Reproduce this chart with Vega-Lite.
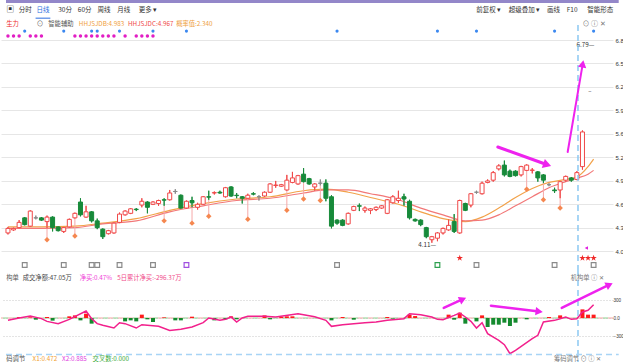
{
"$schema":"https://vega.github.io/schema/vega-lite/v6.json",
"usermeta":{"embedOptions":{"actions":false}},
"padding":0,
"background":"#ffffff",
"spacing":0,
"bounds":"flush",
"config":{"view":{"stroke":null},"font":"Noto Sans CJK SC","text":{"fontSize":6.3,"align":"left","baseline":"middle","color":"#333333"}},
"datasets":{
"k":[
{"i":0,"o":4.24,"h":4.32,"l":4.22,"c":4.30},{"i":1,"o":4.28,"h":4.31,"l":4.27,"c":4.30},{"i":2,"o":4.31,"h":4.41,"l":4.30,"c":4.38},{"i":3,"o":4.44,"h":4.45,"l":4.34,"c":4.35},{"i":4,"o":4.33,"h":4.54,"l":4.32,"c":4.53},{"i":5,"o":4.44,"h":4.47,"l":4.42,"c":4.44},{"i":6,"o":4.44,"h":4.45,"l":4.40,"c":4.41},{"i":7,"o":4.39,"h":4.47,"l":4.30,"c":4.45},{"i":8,"o":4.45,"h":4.46,"l":4.26,"c":4.31},{"i":9,"o":4.32,"h":4.33,"l":4.26,"c":4.27},
{"i":10,"o":4.26,"h":4.32,"l":4.24,"c":4.31},{"i":11,"o":4.32,"h":4.43,"l":4.31,"c":4.42},{"i":12,"o":4.44,"h":4.51,"l":4.43,"c":4.50},{"i":13,"o":4.65,"h":4.70,"l":4.46,"c":4.48},{"i":14,"o":4.45,"h":4.60,"l":4.44,"c":4.52},{"i":15,"o":4.52,"h":4.53,"l":4.38,"c":4.40},{"i":16,"o":4.40,"h":4.43,"l":4.29,"c":4.31},{"i":17,"o":4.29,"h":4.30,"l":4.16,"c":4.19},{"i":18,"o":4.23,"h":4.28,"l":4.22,"c":4.27},{"i":19,"o":4.24,"h":4.38,"l":4.23,"c":4.37},
{"i":20,"o":4.38,"h":4.51,"l":4.37,"c":4.49},{"i":21,"o":4.48,"h":4.54,"l":4.47,"c":4.53},{"i":22,"o":4.50,"h":4.57,"l":4.49,"c":4.56},{"i":23,"o":4.555,"h":4.57,"l":4.53,"c":4.55},{"i":24,"o":4.61,"h":4.70,"l":4.58,"c":4.66},{"i":25,"o":4.65,"h":4.66,"l":4.50,"c":4.58},{"i":26,"o":4.62,"h":4.66,"l":4.61,"c":4.65},{"i":27,"o":4.63,"h":4.68,"l":4.60,"c":4.67},{"i":28,"o":4.68,"h":4.70,"l":4.60,"c":4.675},{"i":29,"o":4.68,"h":4.81,"l":4.67,"c":4.77},
{"i":30,"o":4.79,"h":4.82,"l":4.76,"c":4.79},{"i":31,"o":4.74,"h":4.75,"l":4.56,"c":4.57},{"i":32,"o":4.57,"h":4.67,"l":4.56,"c":4.66},{"i":33,"o":4.67,"h":4.72,"l":4.58,"c":4.64},{"i":34,"o":4.58,"h":4.64,"l":4.55,"c":4.62},{"i":35,"o":4.62,"h":4.73,"l":4.61,"c":4.72},{"i":36,"o":4.72,"h":4.80,"l":4.68,"c":4.715},{"i":37,"o":4.77,"h":4.79,"l":4.75,"c":4.775},{"i":38,"o":4.78,"h":4.80,"l":4.76,"c":4.77},{"i":39,"o":4.72,"h":4.85,"l":4.71,"c":4.84},
{"i":40,"o":4.85,"h":4.86,"l":4.72,"c":4.73},{"i":41,"o":4.74,"h":4.77,"l":4.70,"c":4.735},{"i":42,"o":4.72,"h":4.73,"l":4.63,"c":4.70},{"i":43,"o":4.70,"h":4.76,"l":4.69,"c":4.74},{"i":44,"o":4.76,"h":4.78,"l":4.74,"c":4.755},{"i":45,"o":4.72,"h":4.74,"l":4.67,"c":4.72},{"i":46,"o":4.73,"h":4.79,"l":4.72,"c":4.78},{"i":47,"o":4.78,"h":4.90,"l":4.77,"c":4.89},{"i":48,"o":4.87,"h":4.93,"l":4.84,"c":4.875},{"i":49,"o":4.86,"h":4.89,"l":4.85,"c":4.88},
{"i":50,"o":4.81,"h":5.01,"l":4.80,"c":4.94},{"i":51,"o":4.91,"h":5.05,"l":4.90,"c":4.97},{"i":52,"o":4.89,"h":5.01,"l":4.88,"c":5.00},{"i":53,"o":5.02,"h":5.10,"l":4.91,"c":4.92},{"i":54,"o":4.96,"h":4.97,"l":4.88,"c":4.89},{"i":55,"o":4.85,"h":4.90,"l":4.80,"c":4.89},{"i":56,"o":4.90,"h":4.95,"l":4.87,"c":4.90},{"i":57,"o":4.90,"h":4.95,"l":4.66,"c":4.70},{"i":58,"o":4.72,"h":4.74,"l":4.30,"c":4.33},{"i":59,"o":4.41,"h":4.42,"l":4.35,"c":4.37},
{"i":60,"o":4.41,"h":4.42,"l":4.33,"c":4.34},{"i":61,"o":4.36,"h":4.51,"l":4.35,"c":4.50},{"i":62,"o":4.54,"h":4.60,"l":4.53,"c":4.59},{"i":63,"o":4.60,"h":4.63,"l":4.53,"c":4.595},{"i":64,"o":4.54,"h":4.59,"l":4.51,"c":4.57},{"i":65,"o":4.54,"h":4.57,"l":4.49,"c":4.56},{"i":66,"o":4.55,"h":4.59,"l":4.53,"c":4.58},{"i":67,"o":4.57,"h":4.61,"l":4.56,"c":4.60},{"i":68,"o":4.50,"h":4.69,"l":4.49,"c":4.68},{"i":69,"o":4.64,"h":4.74,"l":4.63,"c":4.72},
{"i":70,"o":4.67,"h":4.80,"l":4.64,"c":4.70},{"i":71,"o":4.72,"h":4.76,"l":4.60,"c":4.69},{"i":72,"o":4.66,"h":4.68,"l":4.42,"c":4.44},{"i":73,"o":4.42,"h":4.43,"l":4.39,"c":4.40},{"i":74,"o":4.41,"h":4.42,"l":4.33,"c":4.35},{"i":75,"o":4.31,"h":4.32,"l":4.17,"c":4.19},{"i":76,"o":4.15,"h":4.20,"l":4.11,"c":4.19},{"i":77,"o":4.17,"h":4.25,"l":4.13,"c":4.24},{"i":78,"o":4.24,"h":4.31,"l":4.22,"c":4.30},{"i":79,"o":4.28,"h":4.42,"l":4.27,"c":4.34},
{"i":80,"o":4.39,"h":4.49,"l":4.24,"c":4.26},{"i":81,"o":4.24,"h":4.68,"l":4.23,"c":4.67},{"i":82,"o":4.63,"h":4.64,"l":4.53,"c":4.54},{"i":83,"o":4.61,"h":4.77,"l":4.58,"c":4.76},{"i":84,"o":4.78,"h":4.80,"l":4.76,"c":4.78},{"i":85,"o":4.76,"h":4.92,"l":4.75,"c":4.90},{"i":86,"o":4.91,"h":4.95,"l":4.90,"c":4.93},{"i":87,"o":4.94,"h":5.06,"l":4.92,"c":5.04},{"i":88,"o":5.09,"h":5.15,"l":5.07,"c":5.13},{"i":89,"o":5.14,"h":5.20,"l":4.99,"c":5.01},
{"i":90,"o":5.06,"h":5.08,"l":4.98,"c":4.99},{"i":91,"o":5.06,"h":5.07,"l":4.99,"c":5.00},{"i":92,"o":5.01,"h":5.13,"l":4.99,"c":5.12},{"i":93,"o":5.07,"h":5.15,"l":5.06,"c":5.14},{"i":94,"o":5.07,"h":5.10,"l":5.03,"c":5.075},{"i":95,"o":5.05,"h":5.06,"l":4.92,"c":4.97},{"i":96,"o":5.01,"h":5.02,"l":4.90,"c":4.94},{"i":97,"o":4.88,"h":4.90,"l":4.86,"c":4.88},{"i":98,"o":4.81,"h":4.84,"l":4.77,"c":4.80},{"i":99,"o":4.81,"h":4.93,"l":4.70,"c":4.92},
{"i":100,"o":4.94,"h":5.00,"l":4.92,"c":4.99},{"i":101,"o":4.97,"h":4.98,"l":4.92,"c":4.94},{"i":102,"o":4.95,"h":5.06,"l":4.94,"c":5.04},{"i":103,"o":5.12,"h":5.60,"l":5.08,"c":5.58}
],
"ma":[
{"i":0,"a":4.32,"b":4.30},{"i":6,"a":4.32,"b":4.30},{"i":12,"a":4.33,"b":4.31},{"i":17,"a":4.37,"b":4.36},{"i":23,"a":4.43,"b":4.40},{"i":29,"a":4.54,"b":4.52},{"i":35,"a":4.63,"b":4.60},{"i":41,"a":4.69,"b":4.67},{"i":47,"a":4.72,"b":4.70},{"i":53,"a":4.80,"b":4.77},{"i":57,"a":4.82,"b":4.81},{"i":61,"a":4.78,"b":4.81},{"i":65,"a":4.71,"b":4.76},{"i":70,"a":4.62,"b":4.68},{"i":74,"a":4.52,"b":4.57},{"i":78,"a":4.43,"b":4.48},{"i":82,"a":4.39,"b":4.40},{"i":85,"a":4.45,"b":4.41},{"i":88,"a":4.57,"b":4.48},{"i":91,"a":4.71,"b":4.60},{"i":94,"a":4.83,"b":4.72},{"i":97,"a":4.91,"b":4.84},{"i":100,"a":4.95,"b":4.92},{"i":102,"a":4.983,"b":4.967},{"i":104,"a":5.12,"b":5.02},{"i":105,"a":5.22,"b":5.07}
],
"dia":[
{"i":7,"t":4.30,"v":4.15},{"i":12,"t":4.43,"v":4.20},{"i":28,"t":4.60,"v":4.40},{"i":33,"t":4.58,"v":4.37},{"i":36,"t":4.68,"v":4.46},{"i":43,"t":4.69,"v":4.42},{"i":50,"t":4.80,"v":4.54},{"i":53,"t":4.91,"v":4.69},{"i":56,"t":4.87,"v":4.67},{"i":93,"t":5.06,"v":4.82},{"i":96,"t":4.90,"v":4.68},{"i":99,"t":4.70,"v":4.57}
],
"ev":[
{"i":3,"k":"g"},{"i":10,"k":"g"},{"i":15,"k":"g"},{"i":16,"k":"g"},{"i":20,"k":"g"},{"i":26,"k":"g"},{"i":32,"k":"p"},{"i":59,"k":"g"},{"i":77,"k":"n"},{"i":84,"k":"g"},{"i":98,"k":"g"},{"i":105,"k":"g"}
],
"mg":[{"i":0},{"i":1},{"i":2},{"i":4},{"i":5},{"i":6},{"i":12},{"i":13},{"i":14},{"i":15},{"i":16},{"i":17},{"i":18},{"i":19},{"i":21},{"i":23},{"i":24},{"i":25},{"i":26}],
"rs":[{"i":81},{"i":103},{"i":104},{"i":105}],
"bars":[
{"i":2,"v":17},{"i":4,"v":11},{"i":5,"v":-28},{"i":7,"v":17},{"i":8,"v":-44},{"i":11,"v":28},{"i":12,"v":44},{"i":13,"v":-39},{"i":14,"v":72},{"i":15,"v":-94},{"i":21,"v":-56},{"i":22,"v":-39},{"i":23,"v":-56},{"i":24,"v":56},{"i":25,"v":-22},{"i":26,"v":-67},{"i":28,"v":11},{"i":30,"v":-39},{"i":31,"v":-39},{"i":33,"v":22},{"i":37,"v":-39},{"i":39,"v":-22},{"i":40,"v":28},{"i":41,"v":-22},{"i":46,"v":44},{"i":47,"v":-22},{"i":49,"v":22},{"i":50,"v":28},{"i":51,"v":28},{"i":58,"v":-39},{"i":60,"v":17},{"i":62,"v":-28},{"i":68,"v":17},{"i":69,"v":-10},{"i":72,"v":56},{"i":73,"v":33},{"i":79,"v":56},{"i":80,"v":-28},{"i":81,"v":89},{"i":82,"v":-94},{"i":84,"v":-56},{"i":85,"v":44},{"i":86,"v":-150},{"i":87,"v":-111},{"i":88,"v":-111},{"i":89,"v":-78},{"i":90,"v":-133},{"i":91,"v":-78},{"i":93,"v":-22},{"i":97,"v":17},{"i":99,"v":44},{"i":103,"v":144},{"i":104,"v":56},{"i":105,"v":56}
],
"flow":[
{"i":0,"v":-39},{"i":2,"v":0},{"i":4,"v":33},{"i":6,"v":-10},{"i":7,"v":-56},{"i":9,"v":-94},{"i":11,"v":-22},{"i":14,"v":117},{"i":15,"v":-11},{"i":16,"v":-94},{"i":17,"v":-122},{"i":19,"v":-167},{"i":20,"v":-78},{"i":21,"v":-94},{"i":23,"v":-167},{"i":24,"v":-111},{"i":27,"v":-139},{"i":29,"v":-206},{"i":31,"v":-189},{"i":33,"v":-150},{"i":35,"v":-78},{"i":36,"v":0},{"i":38,"v":-39},{"i":39,"v":-22},{"i":40,"v":17},{"i":41,"v":-67},{"i":42,"v":0},{"i":43,"v":28},{"i":46,"v":28},{"i":48,"v":17},{"i":52,"v":72},{"i":53,"v":56},{"i":55,"v":20},{"i":57,"v":-39},{"i":58,"v":-139},{"i":60,"v":-111},{"i":62,"v":-94},{"i":64,"v":-78},{"i":66,"v":-67},{"i":68,"v":-39},{"i":71,"v":-11},{"i":72,"v":72},{"i":74,"v":56},{"i":76,"v":17},{"i":77,"v":-22},{"i":78,"v":-28},{"i":80,"v":44},{"i":81,"v":83},{"i":82,"v":17},{"i":83,"v":-56},{"i":84,"v":-167},{"i":85,"v":-78},{"i":86,"v":-261},{"i":88,"v":-372},{"i":89,"v":-444},{"i":90,"v":-595},{"i":91,"v":-539},{"i":94,"v":-344},{"i":95,"v":-289},{"i":96,"v":-67},{"i":98,"v":-39},{"i":99,"v":-11},{"i":100,"v":17},{"i":101,"v":-22},{"i":102,"v":-11},{"i":103,"v":100},{"i":104,"v":128},{"i":105,"v":222}
]
},
"vconcat":[
{"width":612,"height":270,"data":{"values":[{}]},"resolve":{"axis":{"x":"independent","y":"independent"}},"layer":[
{"mark":{"type":"rule","color":"#9387c9","strokeWidth":3},"encoding":{"x":{"datum":-0.353,"axis":null},"x2":{"datum":109.5},"y":{"datum":7.311,"axis":null}}},
{"mark":{"type":"text","text":"▣","fontSize":8},"encoding":{"x":{"datum":-0.3,"axis":null},"y":{"datum":7.198,"axis":null}}},
{"mark":{"type":"text","text":"分时","fontSize":6.5},"encoding":{"x":{"datum":1.94,"axis":null},"y":{"datum":7.198,"axis":null}}},
{"mark":{"type":"text","text":"日线","fontSize":6.5,"color":"#2b6de0"},"encoding":{"x":{"datum":5.11,"axis":null},"y":{"datum":7.198,"axis":null}}},
{"mark":{"type":"text","text":"30分","fontSize":6.5},"encoding":{"x":{"datum":9.0,"axis":null},"y":{"datum":7.198,"axis":null}}},
{"mark":{"type":"text","text":"60分","fontSize":6.5},"encoding":{"x":{"datum":12.52,"axis":null},"y":{"datum":7.198,"axis":null}}},
{"mark":{"type":"text","text":"周线","fontSize":6.5},"encoding":{"x":{"datum":16.05,"axis":null},"y":{"datum":7.198,"axis":null}}},
{"mark":{"type":"text","text":"月线","fontSize":6.5},"encoding":{"x":{"datum":19.58,"axis":null},"y":{"datum":7.198,"axis":null}}},
{"mark":{"type":"text","text":"更多 ▾","fontSize":6.5},"encoding":{"x":{"datum":23.46,"axis":null},"y":{"datum":7.198,"axis":null}}},
{"mark":{"type":"text","text":"前复权 ▾","fontSize":6.5},"encoding":{"x":{"datum":83.95,"axis":null},"y":{"datum":7.198,"axis":null}}},
{"mark":{"type":"text","text":"超级叠加 ▾","fontSize":6.5},"encoding":{"x":{"datum":89.77,"axis":null},"y":{"datum":7.198,"axis":null}}},
{"mark":{"type":"text","text":"画线","fontSize":6.5},"encoding":{"x":{"datum":96.65,"axis":null},"y":{"datum":7.198,"axis":null}}},
{"mark":{"type":"text","text":"F10","fontSize":6.5},"encoding":{"x":{"datum":100.18,"axis":null},"y":{"datum":7.198,"axis":null}}},
{"mark":{"type":"text","text":"智能形态","fontSize":6.5},"encoding":{"x":{"datum":103.88,"axis":null},"y":{"datum":7.198,"axis":null}}},
{"mark":{"type":"rule","color":"#2b6de0","strokeWidth":1},"encoding":{"x":{"datum":4.95,"axis":null},"x2":{"datum":7.6},"y":{"datum":7.09,"axis":null}}},
{"mark":{"type":"text","text":"生力","color":"#ee2a2a"},"encoding":{"x":{"datum":-0.3,"axis":null},"y":{"datum":7.012,"axis":null}}},
{"mark":{"type":"text","text":"⊙","color":"#666666","fontSize":7},"encoding":{"x":{"datum":5.11,"axis":null},"y":{"datum":7.012,"axis":null}}},
{"mark":{"type":"text","text":"智能辅助","color":"#555555"},"encoding":{"x":{"datum":7.23,"axis":null},"y":{"datum":7.012,"axis":null}}},
{"mark":{"type":"text","text":"HHJSJDB:4.983","color":"#f0a040"},"encoding":{"x":{"datum":12.7,"axis":null},"y":{"datum":7.012,"axis":null}}},
{"mark":{"type":"text","text":"HHJSJDC:4.967","color":"#f04848"},"encoding":{"x":{"datum":21.52,"axis":null},"y":{"datum":7.012,"axis":null}}},
{"mark":{"type":"text","text":"概率值:2.340","color":"#eea040"},"encoding":{"x":{"datum":30.16,"axis":null},"y":{"datum":7.012,"axis":null}}},
{"mark":{"type":"text","text":"⊙ ⓘ ✕","color":"#777777","fontSize":7},"encoding":{"x":{"datum":103.0,"axis":null},"y":{"datum":7.012,"axis":null}}},
{"data":{"name":"k"},"mark":{"type":"rule","strokeWidth":1},"encoding":{
"x":{"field":"i","type":"quantitative","scale":{"domain":[-0.353,107.58],"nice":false,"zero":false},"axis":null},
"y":{"field":"l","type":"quantitative","scale":{"domain":[3.748,7.331],"nice":false,"zero":false},"axis":{"orient":"right","values":[4.0,4.3111,4.6222,4.9333,5.2444,5.5556,5.8667,6.1778,6.4889,6.8],"format":".1f","grid":true,"gridColor":"#e6e6e6","domain":false,"ticks":false,"labelPadding":2,"labelFontSize":6,"labelFont":"Liberation Sans","labelColor":"#333333","title":null}},
"y2":{"field":"h"},
"color":{"condition":[{"test":"datum.c>datum.o","value":"#f04848"},{"test":"datum.c<datum.o","value":"#178a3a"}],"value":"#8a8a8a"}}},
{"data":{"name":"ma"},"mark":{"type":"line","color":"#f2a24a","strokeWidth":1.2,"interpolate":"monotone"},"encoding":{"x":{"field":"i","type":"quantitative","axis":null},"y":{"field":"a","type":"quantitative","axis":null}}},
{"data":{"name":"ma"},"mark":{"type":"line","color":"#f27878","strokeWidth":1.2,"interpolate":"monotone"},"encoding":{"x":{"field":"i","type":"quantitative","axis":null},"y":{"field":"b","type":"quantitative","axis":null}}},
{"data":{"name":"dia"},"mark":{"type":"rule","color":"#f6a8a8","strokeWidth":1},"encoding":{"x":{"field":"i","type":"quantitative","axis":null},"y":{"field":"t","type":"quantitative","axis":null},"y2":{"field":"v"}}},
{"data":{"name":"dia"},"mark":{"type":"point","shape":"diamond","filled":true,"color":"#f5874f","size":30,"opacity":1},"encoding":{"x":{"field":"i","type":"quantitative","axis":null},"y":{"field":"v","type":"quantitative","axis":null}}},
{"data":{"name":"k"},"mark":{"type":"rule","strokeWidth":1},"encoding":{
"x":{"field":"i","type":"quantitative","axis":null},
"y":{"field":"l","type":"quantitative","axis":null},
"y2":{"field":"h"},
"color":{"condition":[{"test":"datum.c>datum.o","value":"#f04848"},{"test":"datum.c<datum.o","value":"#178a3a"}],"value":"#8a8a8a"}}},
{"data":{"name":"k"},"mark":{"type":"bar","size":4,"strokeWidth":1},"encoding":{
"x":{"field":"i","type":"quantitative","axis":null},
"y":{"field":"o","type":"quantitative","axis":null},
"y2":{"field":"c"},
"fill":{"condition":[{"test":"datum.c>datum.o","value":"#ffffff"},{"test":"datum.c<datum.o","value":"#178a3a"}],"value":"#8a8a8a"},
"stroke":{"condition":[{"test":"datum.c>datum.o","value":"#f04848"},{"test":"datum.c<datum.o","value":"#178a3a"}],"value":"#8a8a8a"}}},
{"data":{"name":"ev"},"mark":{"type":"point","shape":"circle","filled":true,"color":"#3b88f0","size":10,"opacity":1},"encoding":{"x":{"field":"i","type":"quantitative","axis":null},"y":{"datum":6.919,"axis":null}}},
{"data":{"name":"mg"},"mark":{"type":"point","shape":"circle","filled":true,"color":"#e21ec4","size":12,"opacity":1},"encoding":{"x":{"field":"i","type":"quantitative","axis":null},"y":{"datum":6.853,"axis":null}}},
{"data":{"name":"ev"},"mark":{"type":"point","shape":"square","filled":false,"strokeWidth":1.2,"size":22,"opacity":1},"encoding":{"x":{"field":"i","type":"quantitative","axis":null},"y":{"datum":3.814,"axis":null},"color":{"condition":[{"test":"datum.k==='p'","value":"#a050e0"},{"test":"datum.k==='n'","value":"#2fa050"}],"value":"#8a8a8a"}}},
{"data":{"name":"rs"},"mark":{"type":"point","shape":"M0,-1L0.2245,-0.309L0.951,-0.309L0.363,0.118L0.588,0.809L0,0.382L-0.588,0.809L-0.363,0.118L-0.951,-0.309L-0.2245,-0.309Z","filled":true,"color":"#f02828","size":45,"opacity":1},"encoding":{"x":{"field":"i","type":"quantitative","axis":null},"y":{"datum":3.907,"axis":null}}},
{"mark":{"type":"point","shape":"triangle-left","filled":true,"color":"#e020e0","size":14,"opacity":1},"encoding":{"x":{"datum":103.7,"axis":null},"y":{"datum":4.04,"axis":null}}},
{"mark":{"type":"text","text":"6.79—"},"encoding":{"x":{"datum":101.94,"axis":null},"y":{"datum":6.734,"axis":null}}},
{"mark":{"type":"text","text":"–","fontSize":6},"encoding":{"x":{"datum":104.06,"axis":null},"y":{"datum":6.123,"axis":null}}},
{"mark":{"type":"text","text":"4.11—"},"encoding":{"x":{"datum":73.54,"axis":null},"y":{"datum":4.08,"axis":null}}},
{"mark":{"type":"rule","color":"#8cc8f2","strokeDash":[6,4],"strokeWidth":1.5},"encoding":{"x":{"datum":102.2,"axis":null},"y":{"datum":7.0,"axis":null},"y2":{"datum":3.748}}},
{"mark":{"type":"rule","color":"#ee22ee","strokeWidth":3,"strokeCap":"round"},"encoding":{"x":{"datum":87.83,"axis":null},"x2":{"datum":96.68},"y":{"datum":5.38,"axis":null},"y2":{"datum":5.145}}},
{"mark":{"type":"point","shape":"triangle-up","filled":true,"color":"#ee22ee","size":90,"angle":109,"opacity":1},"encoding":{"x":{"datum":96.68,"axis":null},"y":{"datum":5.145,"axis":null}}},
{"mark":{"type":"rule","color":"#ee22ee","strokeWidth":2,"strokeCap":"round"},"encoding":{"x":{"datum":100.35,"axis":null},"x2":{"datum":103.05},"y":{"datum":5.314,"axis":null},"y2":{"datum":6.483}}},
{"mark":{"type":"point","shape":"triangle-up","filled":true,"color":"#ee22ee","size":70,"angle":9.9,"opacity":1},"encoding":{"x":{"datum":103.05,"axis":null},"y":{"datum":6.483,"axis":null}}}
]},
{"width":612,"height":92,"data":{"values":[{}]},"resolve":{"axis":{"x":"independent","y":"independent"}},"layer":[
{"data":{"name":"bars"},"mark":{"type":"bar","size":4,"opacity":0},"encoding":{
"x":{"field":"i","type":"quantitative","scale":{"domain":[-0.353,107.58],"nice":false,"zero":false},"axis":null},
"y":{"field":"v","type":"quantitative","scale":{"domain":[-733,800],"nice":false,"zero":false},"axis":{"orient":"right","values":[-300,0,300],"labelExpr":"datum.value === 0 ? '0.0' : format(datum.value, 'd')","grid":true,"gridDash":[1,2],"gridColor":"#c8c8c8","domain":false,"ticks":false,"labelPadding":0,"labelFontSize":4.6,"labelFont":"Liberation Sans","labelColor":"#333333","title":null}},
"y2":{"datum":0}}},
{"mark":{"type":"rule","color":"#f3a3a3","strokeDash":[5,5],"strokeWidth":1.2},"encoding":{"y":{"datum":0,"axis":null}}},
{"mark":{"type":"rule","color":"#8fd08f","strokeDash":[5,5],"strokeDashOffset":5,"strokeWidth":1.2},"encoding":{"y":{"datum":0,"axis":null}}},
{"data":{"name":"bars"},"mark":{"type":"bar","size":4},"encoding":{
"x":{"field":"i","type":"quantitative","axis":null},
"y":{"field":"v","type":"quantitative","axis":null},
"y2":{"datum":0},
"color":{"condition":{"test":"datum.v>=0","value":"#ff1c1c"},"value":"#148a2e"}}},
{"data":{"name":"flow"},"mark":{"type":"line","color":"#f2208c","strokeWidth":1.5},"encoding":{"x":{"field":"i","type":"quantitative","axis":null},"y":{"field":"v","type":"quantitative","axis":null}}},
{"mark":{"type":"rule","color":"#8cc8f2","strokeDash":[6,4],"strokeWidth":1.5},"encoding":{"x":{"datum":102.2,"axis":null}}},
{"mark":{"type":"rule","color":"#a8d4f5","strokeDash":[6,4],"strokeWidth":1.5},"encoding":{"x":{"datum":-0.353,"axis":null},"x2":{"datum":109.5},"y":{"datum":-608,"axis":null}}},
{"mark":{"type":"text","text":"构单","color":"#555555"},"encoding":{"x":{"datum":-0.3,"axis":null},"y":{"datum":667,"axis":null}}},
{"mark":{"type":"text","text":"成交净额:47.05万","color":"#444444"},"encoding":{"x":{"datum":2.65,"axis":null},"y":{"datum":667,"axis":null}}},
{"mark":{"type":"text","text":"净买:0.47%","color":"#f03cd8"},"encoding":{"x":{"datum":12.87,"axis":null},"y":{"datum":667,"axis":null}}},
{"mark":{"type":"text","text":"5日累计净买:-296.37万","color":"#f04a8a"},"encoding":{"x":{"datum":19.58,"axis":null},"y":{"datum":667,"axis":null}}},
{"mark":{"type":"text","text":"机构单 ⓘ ✕","color":"#777777"},"encoding":{"x":{"datum":100.88,"axis":null},"y":{"datum":667,"axis":null}}},
{"mark":{"type":"text","text":"码调节","color":"#555555"},"encoding":{"x":{"datum":-0.3,"axis":null},"y":{"datum":-675,"axis":null}}},
{"mark":{"type":"text","text":"X1:0.472","color":"#f0a030"},"encoding":{"x":{"datum":4.41,"axis":null},"y":{"datum":-675,"axis":null}}},
{"mark":{"type":"text","text":"X2:0.885","color":"#e040e0"},"encoding":{"x":{"datum":9.7,"axis":null},"y":{"datum":-675,"axis":null}}},
{"mark":{"type":"text","text":"交叉数:0.000","color":"#3aaa3a"},"encoding":{"x":{"datum":15.17,"axis":null},"y":{"datum":-675,"axis":null}}},
{"mark":{"type":"text","text":"筹码调节 ⊙ ⓘ ✕","color":"#777777"},"encoding":{"x":{"datum":97.88,"axis":null},"y":{"datum":-675,"axis":null}}},
{"mark":{"type":"rule","color":"#ee22ee","strokeWidth":2.5,"strokeCap":"round"},"encoding":{"x":{"datum":78.13,"axis":null},"x2":{"datum":81.55},"y":{"datum":167,"axis":null},"y2":{"datum":313}}},
{"mark":{"type":"point","shape":"triangle-up","filled":true,"color":"#ee22ee","size":70,"angle":65.5,"opacity":1},"encoding":{"x":{"datum":81.55,"axis":null},"y":{"datum":313,"axis":null}}},
{"mark":{"type":"rule","color":"#ee22ee","strokeWidth":2.5,"strokeCap":"round"},"encoding":{"x":{"datum":86.6,"axis":null},"x2":{"datum":95.24},"y":{"datum":205,"axis":null},"y2":{"datum":108}}},
{"mark":{"type":"point","shape":"triangle-up","filled":true,"color":"#ee22ee","size":70,"angle":96.8,"opacity":1},"encoding":{"x":{"datum":95.24,"axis":null},"y":{"datum":108,"axis":null}}},
{"mark":{"type":"rule","color":"#ee22ee","strokeWidth":2.5,"strokeCap":"round"},"encoding":{"x":{"datum":99.29,"axis":null},"x2":{"datum":107.83},"y":{"datum":167,"axis":null},"y2":{"datum":555}}},
{"mark":{"type":"point","shape":"triangle-up","filled":true,"color":"#ee22ee","size":70,"angle":64.3,"opacity":1},"encoding":{"x":{"datum":107.83,"axis":null},"y":{"datum":555,"axis":null}}}
]}
]
}
